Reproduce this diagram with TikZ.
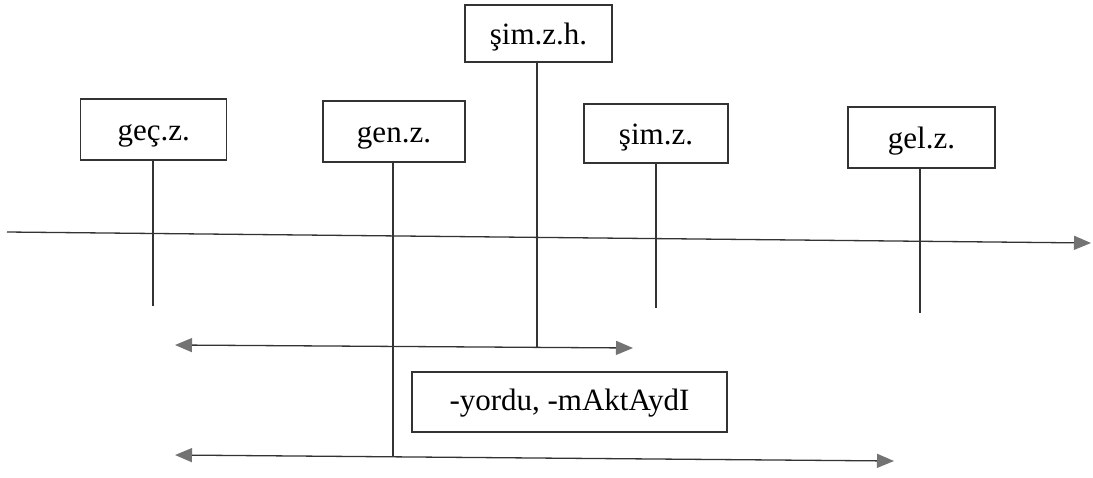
\documentclass[tikz,border=0pt]{standalone}
\usepackage{fontspec}
\setmainfont{Liberation Serif}
\usetikzlibrary{arrows.meta}
\begin{document}
\begin{tikzpicture}[x=1pt,y=-1pt,
  ln/.style={draw=black!80, line width=1.3pt},
  tip/.style={-{Triangle[length=17pt,width=14pt,color=black!55,fill=black!55]}},
  tips/.style={{Triangle[length=17pt,width=14pt,color=black!55,fill=black!55]}-{Triangle[length=17pt,width=14pt,color=black!55,fill=black!55]}},
  box/.style={draw=black!80, line width=1.2pt, inner sep=0pt, font=\fontsize{31}{36}\selectfont, anchor=center, text height=30pt, text depth=8pt}]
\useasboundingbox (0,0) rectangle (1093,477);
% boxes
\node[box, minimum width=146pt, minimum height=61pt] (gec) at (153.7,129.5) {geç.z.};
\node[box, minimum width=142pt, minimum height=61pt] (gen) at (394,131.5) {gen.z.};
\node[box, minimum width=147pt, minimum height=57pt] (simzh) at (538.5,33.5) {şim.z.h.};
\node[box, minimum width=144pt, minimum height=59pt] (simz) at (656,133.5) {şim.z.};
\node[box, minimum width=147pt, minimum height=61pt] (gel) at (921.5,137.5) {gel.z.};
\node[box, minimum width=315pt, minimum height=60pt, text height=25pt] (yordu) at (569.5,402) {-yordu, -mAktAydI};
% main axis
\coordinate (axL) at (7,232);
\coordinate (axR) at (1091,243);
\draw[ln, tip] (axL) -- (axR);
% tick lines
\coordinate (gecE) at (153,306);
\coordinate (simzE) at (656,308);
\coordinate (gelE) at (920,313);
\draw[ln] (gec.south -| gecE) -- (gecE);
\draw[ln] (simz.south -| simzE) -- (simzE);
\draw[ln] (gel.south -| gelE) -- (gelE);
% double arrows
\coordinate (a1L) at (175,345);
\coordinate (a1R) at (633,348);
\coordinate (a2L) at (175,455);
\coordinate (a2R) at (894,461);
\draw[ln, tips] (a1L) -- (a1R);
\draw[ln, tips] (a2L) -- (a2R);
\coordinate (simzhE) at (537,347.5);
\coordinate (genE) at (393,457);
\draw[ln] (simzh.south -| simzhE) -- (simzhE);
\draw[ln] (gen.south -| genE) -- (genE);
\end{tikzpicture}
\end{document}
